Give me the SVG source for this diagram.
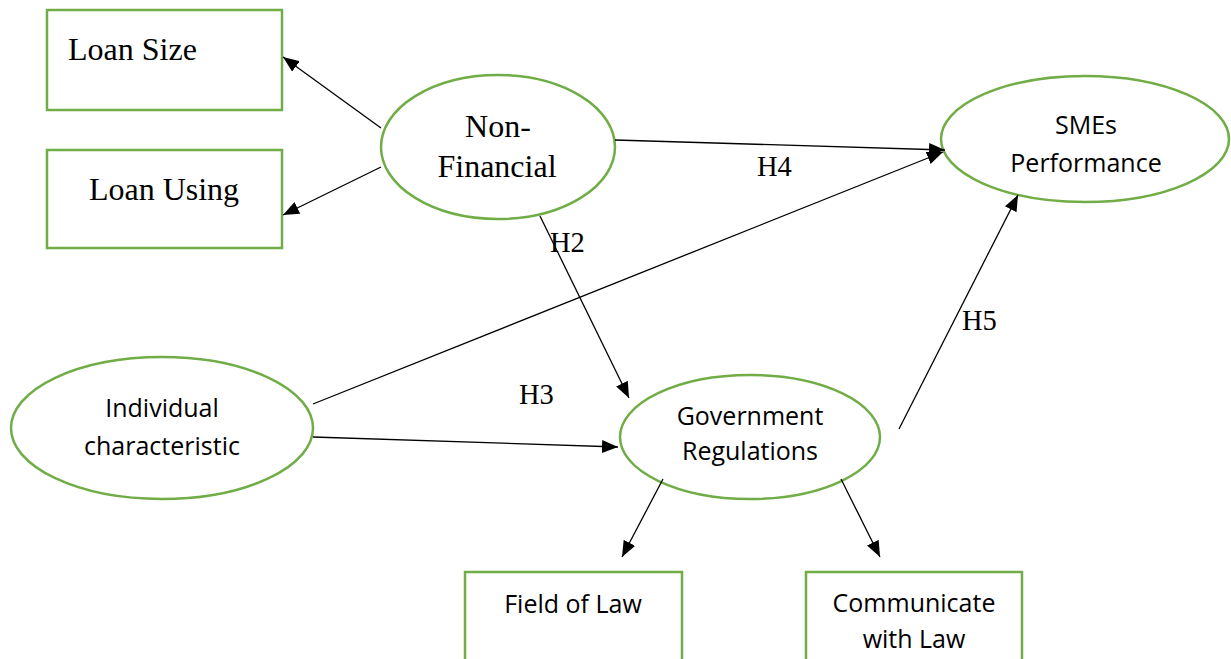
<svg xmlns="http://www.w3.org/2000/svg" width="1231" height="659" viewBox="0 0 1231 659">
<style>
.box{fill:#fff;stroke:#70AD47;stroke-width:2.5}
.ell{fill:#fff;stroke:#70AD47;stroke-width:2.5}
.serif{font-family:"Liberation Serif","Times New Roman",serif;font-size:32px;fill:#000}
.sans{font-family:"Open Sans","Liberation Sans",sans-serif;font-size:25px;fill:#000}
.lbl{font-family:"Liberation Serif","Times New Roman",serif;font-size:28.5px;fill:#000}
.con{stroke:#000;stroke-width:1.3;fill:none;marker-end:url(#ah)}
</style>
<defs>
<marker id="ah" viewBox="0 0 16 13" refX="16" refY="6.5" markerWidth="16" markerHeight="13" markerUnits="userSpaceOnUse" orient="auto">
<path d="M0,0 L16,6.5 L0,13 z" fill="#000"/>
</marker>
</defs>
<rect width="1231" height="659" fill="#fff"/>
<g id="loan-size">
<rect class="box" x="47" y="10" width="235" height="100"/>
<text class="serif" x="68" y="60">Loan Size</text>
</g>
<g id="loan-using">
<rect class="box" x="47" y="150" width="235" height="98"/>
<text class="serif" x="164" y="200" text-anchor="middle">Loan Using</text>
</g>
<g id="non-financial">
<ellipse class="ell" cx="498" cy="147" rx="117" ry="72"/>
<text class="serif" x="498" y="137" text-anchor="middle">Non-</text>
<text class="serif" x="497" y="177" text-anchor="middle">Financial</text>
</g>
<g id="smes-performance">
<ellipse class="ell" cx="1085" cy="139" rx="144" ry="63"/>
<text class="sans" x="1086" y="134" text-anchor="middle">SMEs</text>
<text class="sans" x="1086" y="172" text-anchor="middle">Performance</text>
</g>
<g id="individual">
<ellipse class="ell" cx="162" cy="428" rx="151" ry="71"/>
<text class="sans" x="162" y="417" text-anchor="middle">Individual</text>
<text class="sans" x="162" y="455" text-anchor="middle">characteristic</text>
</g>
<g id="government">
<ellipse class="ell" cx="750" cy="437" rx="130" ry="62"/>
<text class="sans" x="750" y="425" text-anchor="middle" font-size="23">Government</text>
<text class="sans" x="750" y="460" text-anchor="middle" font-size="23">Regulations</text>
</g>
<g id="field-of-law">
<rect class="box" x="465" y="572" width="217" height="110"/>
<text class="sans" x="573" y="613" text-anchor="middle">Field of Law</text>
</g>
<g id="communicate">
<rect class="box" x="806" y="572" width="216" height="110"/>
<text class="sans" x="914" y="612" text-anchor="middle">Communicate</text>
<text class="sans" x="914" y="648" text-anchor="middle">with Law</text>
</g>
<g id="connectors">
<line class="con" x1="381" y1="128" x2="283" y2="57"/>
<line class="con" x1="381" y1="167" x2="283" y2="215"/>
<line class="con" x1="615" y1="140" x2="945" y2="150"/>
<line class="con" x1="313" y1="404" x2="943" y2="152"/>
<line class="con" x1="540" y1="216" x2="629" y2="398"/>
<line class="con" x1="313" y1="437" x2="618" y2="447"/>
<line class="con" x1="899" y1="429" x2="1018" y2="195"/>
<line class="con" x1="663" y1="479" x2="622" y2="557"/>
<line class="con" x1="841" y1="479" x2="880" y2="557"/>
</g>
<g id="labels">
<text class="lbl" x="757" y="176">H4</text>
<text class="lbl" x="550" y="252">H2</text>
<text class="lbl" x="519" y="404">H3</text>
<text class="lbl" x="962" y="330">H5</text>
</g>
</svg>
